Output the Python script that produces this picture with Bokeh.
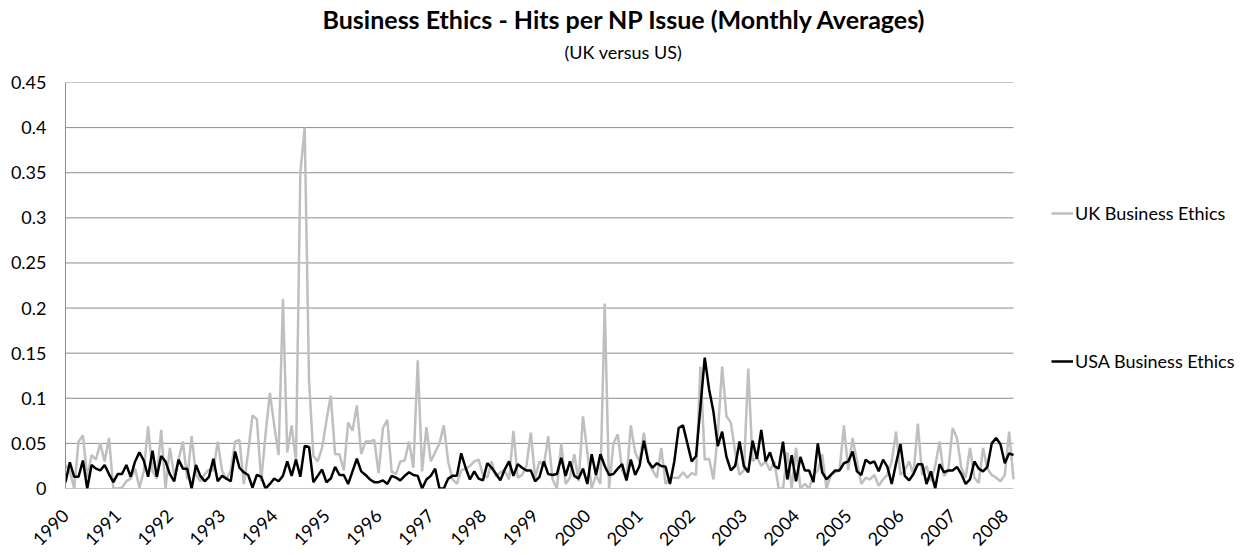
import math
from bokeh.plotting import figure
from bokeh.models import (Range1d, FixedTicker, NumeralTickFormatter, Legend,
                          LegendItem, Title)
from bokeh.embed import file_html
from bokeh.resources import INLINE

# ---------------- data (monthly, Jan 1990 .. Mar 2008) ----------------
year_labels = [str(y) for y in range(1990, 2009)]
y_ticks = [0, 0.05, 0.1, 0.15, 0.2, 0.25, 0.3, 0.35, 0.4, 0.45]

uk_business_ethics = [
    0.026, 0.019, 0.0, 0.052, 0.059, 0.012, 0.037, 0.032, 0.05, 0.03, 0.056, 0.0,
    0.0, 0.001, 0.008, 0.011, 0.022, 0.001, 0.019, 0.069, 0.019, 0.011, 0.065, 0.0,
    0.045, 0.014, 0.032, 0.052, 0.01, 0.058, 0.016, 0.008, 0.016, 0.021, 0.02, 0.052,
    0.02, 0.01, 0.02, 0.052, 0.054, 0.005, 0.04, 0.081, 0.077, 0.008, 0.06, 0.106,
    0.07, 0.037, 0.21, 0.04, 0.07, 0.03, 0.35, 0.4, 0.12, 0.036, 0.03, 0.045,
    0.075, 0.103, 0.038, 0.038, 0.02, 0.073, 0.064, 0.092, 0.038, 0.052, 0.052, 0.054,
    0.017, 0.067, 0.076, 0.019, 0.016, 0.03, 0.031, 0.052, 0.023, 0.142, 0.019, 0.068,
    0.03, 0.04, 0.05, 0.07, 0.03, 0.01, 0.005, 0.02, 0.022, 0.025, 0.03, 0.032,
    0.015, 0.012, 0.03, 0.013, 0.018, 0.02, 0.01, 0.064, 0.012, 0.015, 0.025, 0.062,
    0.012, 0.03, 0.025, 0.058, 0.01, 0.0, 0.05, 0.005, 0.012, 0.038, 0.008, 0.08,
    0.04, 0.0, 0.015, 0.005, 0.205, 0.0, 0.05, 0.06, 0.02, 0.01, 0.07, 0.04,
    0.03, 0.062, 0.03, 0.02, 0.012, 0.045, 0.005, 0.012, 0.012, 0.012, 0.018, 0.012,
    0.017, 0.015, 0.135, 0.032, 0.033, 0.01, 0.06, 0.135, 0.08, 0.073, 0.04, 0.015,
    0.02, 0.133, 0.03, 0.035, 0.025, 0.03, 0.02, 0.03, 0.0, 0.0, 0.04, 0.0,
    0.045, 0.0, 0.005, 0.0, 0.015, 0.02, 0.038, 0.0, 0.015, 0.018, 0.02, 0.07,
    0.02, 0.056, 0.03, 0.005, 0.012, 0.01, 0.015, 0.003, 0.01, 0.015, 0.03, 0.063,
    0.015, 0.02, 0.03, 0.015, 0.072, 0.015, 0.025, 0.008, 0.025, 0.052, 0.014, 0.02,
    0.067, 0.056, 0.023, 0.012, 0.045, 0.012, 0.006, 0.045, 0.022, 0.015, 0.012, 0.008,
    0.015, 0.063, 0.01,
]

usa_business_ethics = [
    0.007, 0.029, 0.013, 0.013, 0.031, 0.0, 0.026, 0.022, 0.02, 0.026, 0.016, 0.007,
    0.016, 0.016, 0.026, 0.013, 0.03, 0.04, 0.031, 0.013, 0.042, 0.013, 0.036, 0.03,
    0.016, 0.008, 0.032, 0.022, 0.022, 0.0, 0.026, 0.014, 0.008, 0.013, 0.033, 0.008,
    0.014, 0.011, 0.008, 0.041, 0.023, 0.018, 0.015, 0.001, 0.015, 0.013, 0.0, 0.005,
    0.011, 0.008, 0.014, 0.030, 0.014, 0.032, 0.013, 0.047, 0.046, 0.007, 0.014, 0.021,
    0.007, 0.011, 0.024, 0.015, 0.015, 0.005, 0.019, 0.033, 0.019, 0.015, 0.010, 0.007,
    0.007, 0.009, 0.005, 0.014, 0.012, 0.009, 0.014, 0.018, 0.015, 0.014, 0.0, 0.01,
    0.014, 0.022, 0.0, 0.0, 0.011, 0.014, 0.014, 0.039, 0.023, 0.01, 0.019, 0.011,
    0.009, 0.028, 0.023, 0.016, 0.009, 0.021, 0.03, 0.014, 0.027, 0.023, 0.02, 0.02,
    0.008, 0.013, 0.03, 0.016, 0.015, 0.016, 0.034, 0.014, 0.03, 0.014, 0.011, 0.022,
    0.005, 0.038, 0.015, 0.038, 0.025, 0.015, 0.016, 0.022, 0.027, 0.009, 0.032, 0.015,
    0.025, 0.053, 0.03, 0.023, 0.028, 0.025, 0.024, 0.005, 0.03, 0.067, 0.07, 0.05,
    0.03, 0.036, 0.09, 0.145, 0.11, 0.085, 0.047, 0.063, 0.035, 0.02, 0.025, 0.052,
    0.025, 0.018, 0.053, 0.033, 0.065, 0.03, 0.04, 0.025, 0.022, 0.052, 0.01, 0.037,
    0.008, 0.035, 0.02, 0.02, 0.007, 0.05, 0.018, 0.01, 0.015, 0.02, 0.02, 0.028,
    0.03, 0.041, 0.019, 0.015, 0.032, 0.028, 0.03, 0.019, 0.032, 0.024, 0.005, 0.028,
    0.049, 0.014, 0.009, 0.016, 0.027, 0.027, 0.005, 0.019, 0.0, 0.027, 0.018, 0.02,
    0.02, 0.024, 0.016, 0.005, 0.01, 0.03, 0.022, 0.019, 0.024, 0.05, 0.056, 0.049,
    0.028, 0.039, 0.037,
]

months = list(range(len(usa_business_ethics)))
year_ticks = [12 * k for k in range(len(year_labels))]

FONT = "Lato"
GRID = "#8c8c8c"
W, H = 1244, 554
LEFT, TOP = 65, 82
PLOT_W, FRAME_H = 948, 411          # width of the plotted area (data part)
RIGHT_PAD = 2
FRAME_W = W - LEFT - RIGHT_PAD       # frame also hosts the legend on the right
last = len(months) - 1
x_end = last * FRAME_W / PLOT_W

p = figure(width=W, height=H, output_backend="svg", toolbar_location=None,
           x_range=Range1d(0, x_end), y_range=Range1d(0, 0.45),
           min_border_left=LEFT, min_border_right=RIGHT_PAD,
           min_border_top=TOP, min_border_bottom=H - TOP - FRAME_H)
p.outline_line_color = None
p.background_fill_color = "white"

# horizontal gridlines over the data area only
p.segment(x0=[0] * len(y_ticks), y0=y_ticks, x1=[last] * len(y_ticks), y1=y_ticks,
          line_color=GRID, line_width=1)

r_uk = p.line(months, uk_business_ethics, line_color="#bfbfbf", line_width=2.5)
r_us = p.line(months, usa_business_ethics, line_color="#000000", line_width=2.5)

# y axis
p.yaxis.ticker = FixedTicker(ticks=y_ticks)
p.yaxis.formatter = NumeralTickFormatter(format="0.[00]")
p.yaxis.major_tick_line_color = None
p.yaxis.minor_tick_line_color = None
p.yaxis.axis_line_color = GRID
p.yaxis.major_label_text_font = FONT
p.yaxis.major_label_text_font_size = "18px"
p.yaxis.major_label_text_color = "#000000"
p.yaxis.major_label_standoff = 13

# x axis: year labels at January of each year, rotated
p.xaxis.ticker = FixedTicker(ticks=year_ticks)
p.xaxis.major_label_overrides = {t: lab for t, lab in zip(year_ticks, year_labels)}
p.xaxis.major_label_orientation = math.pi / 4
p.xaxis.major_tick_line_color = None
p.xaxis.minor_tick_line_color = None
p.xaxis.axis_line_color = None
p.xaxis.major_label_text_font = FONT
p.xaxis.major_label_text_font_size = "18px"
p.xaxis.major_label_text_color = "#000000"
p.xaxis.major_label_standoff = 18

p.xgrid.visible = False
p.ygrid.visible = False

# titles
p.add_layout(Title(text="(UK versus US)", align="left", offset=499,
                   text_font=FONT, text_font_size="18px", text_font_style="normal",
                   text_color="#000000", standoff=40), "above")
main_title = Title(text="Business Ethics - Hits per NP Issue (Monthly Averages)",
                   align="left", offset=257, text_font=FONT, text_font_size="25px",
                   text_font_style="bold", text_color="#000000", standoff=0)
try:
    main_title.standoff = -30
except Exception:
    main_title.standoff = 0
p.add_layout(main_title, "above")

legend = Legend(items=[LegendItem(label="UK Business Ethics", renderers=[r_uk]),
                       LegendItem(label="USA Business Ethics", renderers=[r_us])],
                location=(PLOT_W + 38, 116), spacing=126, padding=0, margin=0,
                border_line_color=None, background_fill_alpha=0,
                glyph_width=22, glyph_height=18, label_height=18, label_standoff=2,
                label_text_font=FONT, label_text_font_size="18px",
                label_text_color="#000000")
p.add_layout(legend)

open("out.html", "w").write(file_html(p, INLINE))
